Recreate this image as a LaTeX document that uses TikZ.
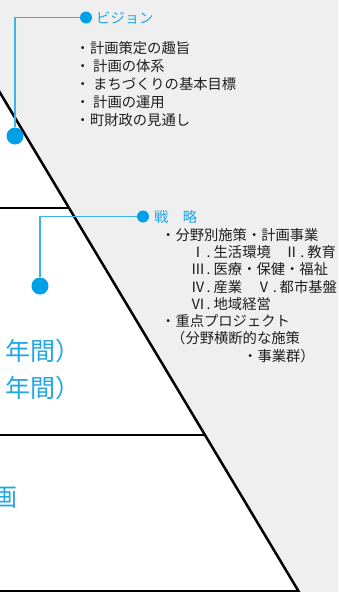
\documentclass[tikz,border=0pt]{standalone}
\usepackage{fontspec}
\setmainfont{Noto Sans CJK JP}
\definecolor{bgray}{HTML}{EFEFEF}
\definecolor{blueD}{HTML}{00A0E9}
\definecolor{blueL}{HTML}{3AB4EA}
\definecolor{blueT}{HTML}{1EA6E6}
\newcommand\rnL[1]{\makebox[10pt][r]{#1}\kern1.5pt.\kern3pt}
\newcommand\rnM[2]{\makebox[#1][r]{#2}\kern1.5pt.\kern3pt}
\tikzset{
  bigdot/.style={circle,fill=blueD,minimum size=17pt,inner sep=0pt},
  smalldot/.style={circle,fill=blueD,minimum size=12pt,inner sep=0pt},
  conn/.style={draw=blueL,line width=1.5pt},
  frame/.style={draw=black,line width=2.5pt},
  small/.style={inner sep=0pt,anchor=base west,font=\fontsize{14.3pt}{17pt}\selectfont,text=black!88},
  head/.style={inner sep=0pt,anchor=base west,font=\fontsize{14.3pt}{17pt}\selectfont,text=blueT},
  big/.style={inner sep=0pt,font=\fontsize{25pt}{30pt}\selectfont,text=blueT}
}
\begin{document}
\begin{tikzpicture}[x=1pt,y=-1pt]
\useasboundingbox (0,0) rectangle (338,592);
\fill[white] (0,0) rectangle (338,592);
\fill[bgray] (0,0) -- (338,0) -- (338,592) -- (299,592) -- (0,92.7) -- cycle;
% pyramid frame
\draw[frame] (-6,82.7) -- (305,602);
\draw[frame] (-5,208) -- (69.2,208);
\draw[frame] (-5,435) -- (205.2,435);
\draw[frame] (-5,591.5) -- (299,591.5);
% left texts
\node[big,anchor=base west] (t1) at (5,360.5) {年間）};
\node[big,anchor=base west] (t2) at (5,397.8) {年間）};
\node[big,anchor=base east] (t3) at (17.5,506.5) {画};
% vision
\node[bigdot] (v1) at (15,136) {};
\node[smalldot] (v2) at (86,17.5) {};
\draw[conn] (v1) |- (v2);
\node[head] (vh) at (96,23.5) {ビジョン};
\node[small] (va) at (75.5,53.6) {・計画策定の趣旨};
\node[small] (vb) at (75.5,71.5) {・ 計画の体系};
\node[small] (vc) at (75.5,89.4) {・ まちづくりの基本目標};
\node[small] (vd) at (75.5,107.3) {・ 計画の運用};
\node[small] (ve) at (75.5,125.2) {・町財政の見通し};
% strategy
\node[bigdot] (s1) at (40,286) {};
\node[smalldot] (s2) at (143,216.5) {};
\draw[conn] (s1) |- (s2);
\node[head] (sh) at (154,222.8) {戦　略};
\node[small] (sa) at (161,240.3) {・分野別施策・計画事業};
\node[small] (sb) at (195,257.55) {\rnL{Ⅰ}生活環境\rnM{28pt}{Ⅱ}教育};
\node[small] (sc) at (195,274.8) {\rnL{Ⅲ}医療・保健・福祉};
\node[small] (sd) at (195,292.05) {\rnL{Ⅳ}産業\rnM{29pt}{Ⅴ}都市基盤};
\node[small] (se) at (195,309.3) {\rnL{Ⅵ}地域経営};
\node[small] (sf) at (161,326.55) {・重点プロジェクト};
\node[small] (sg) at (171,343.8) {（分野横断的な施策};
\node[small] (si) at (243,361.05) {・事業群）};
\end{tikzpicture}
\end{document}
